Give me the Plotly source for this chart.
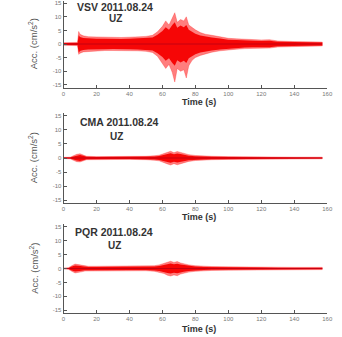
import plotly.graph_objects as go

W, H = 342, 337

# ---- data (envelope of the acceleration traces, cm/s^2) ----
vsv_t = [0, 5, 8.5, 9.2, 10, 12, 15, 20, 25, 30, 35, 40, 45, 50, 54, 57, 60, 62, 64, 66, 67.5, 69, 71, 73, 74.5, 76, 78, 80, 83, 86, 90, 95, 100, 105, 110, 115, 120, 125, 130, 140, 150, 157]
vsv_up = [0.5, 0.5, 0.6, 4.6, 3.6, 3.0, 2.7, 2.6, 2.5, 2.4, 2.4, 2.5, 2.6, 2.8, 3.2, 4.5, 6.5, 8.5, 7.0, 9.5, 11.5, 8.0, 9.0, 8.5, 10.0, 7.0, 6.0, 5.2, 4.2, 3.6, 3.2, 2.6, 2.1, 1.9, 1.7, 1.6, 1.5, 1.6, 1.1, 0.9, 0.8, 0.7]
vsv_lo = [-0.5, -0.5, -0.6, -3.8, -3.4, -2.9, -2.6, -2.5, -2.4, -2.4, -2.3, -2.4, -2.5, -2.7, -3.1, -4.5, -7.0, -9.0, -7.5, -10.5, -14.0, -9.0, -10.0, -9.5, -12.5, -8.0, -6.0, -5.0, -4.2, -3.6, -3.0, -2.5, -2.1, -1.9, -1.7, -1.6, -1.5, -1.5, -1.1, -0.9, -0.8, -0.7]
vsv_core = [0.4, 0.4, 0.4, 3.2, 2.6, 2.2, 2.0, 1.9, 1.9, 1.8, 1.8, 1.9, 2.0, 2.1, 2.4, 3.4, 4.8, 6.2, 5.2, 7.0, 8.0, 6.0, 6.8, 6.2, 7.0, 5.2, 4.4, 3.8, 3.1, 2.7, 2.4, 2.0, 1.6, 1.5, 1.3, 1.2, 1.1, 1.2, 0.85, 0.7, 0.6, 0.55]

cma_t = [0, 4, 6, 8, 10, 12, 14, 20, 30, 40, 50, 55, 58, 61, 63, 65, 67, 69, 71, 73, 76, 80, 85, 90, 100, 110, 120, 130, 140, 150, 157]
cma_up = [0.2, 0.3, 0.8, 1.3, 1.5, 1.1, 0.6, 0.5, 0.5, 0.5, 0.6, 0.8, 1.0, 1.6, 2.0, 2.4, 1.9, 2.3, 2.0, 1.6, 1.2, 0.9, 0.7, 0.6, 0.5, 0.4, 0.35, 0.3, 0.3, 0.3, 0.3]
cma_lo = [-0.2, -0.3, -0.8, -1.3, -1.4, -1.0, -0.6, -0.5, -0.5, -0.5, -0.6, -0.8, -1.0, -1.6, -2.1, -2.5, -2.0, -2.4, -2.0, -1.6, -1.2, -0.9, -0.7, -0.6, -0.5, -0.4, -0.35, -0.3, -0.3, -0.3, -0.3]

pqr_t = [0, 3, 5, 7, 9, 11, 13, 15, 20, 30, 40, 50, 55, 58, 61, 63, 65, 67, 69, 71, 73, 76, 80, 85, 90, 100, 110, 120, 130, 140, 150, 157]
pqr_up = [0.2, 0.3, 1.0, 1.6, 1.4, 1.2, 0.9, 0.8, 0.8, 0.8, 0.8, 0.8, 1.0, 1.3, 1.8, 2.3, 2.6, 2.2, 2.5, 2.0, 1.7, 1.3, 1.0, 0.8, 0.7, 0.6, 0.5, 0.45, 0.4, 0.4, 0.4, 0.4]
pqr_lo = [-0.2, -0.3, -1.0, -1.6, -1.4, -1.2, -0.9, -0.8, -0.8, -0.8, -0.8, -0.8, -1.0, -1.3, -1.8, -2.4, -2.7, -2.3, -2.6, -2.0, -1.7, -1.3, -1.0, -0.8, -0.7, -0.6, -0.5, -0.45, -0.4, -0.4, -0.4, -0.4]

panels = [
    dict(name="VSV 2011.08.24", comp="UZ", t=vsv_t, up=vsv_up, lo=vsv_lo, core=vsv_core,
         top=0.5, bot=87.5, title_y=7, comp_y=19, tx=116, cx=116, time_y=102),
    dict(name="CMA 2011.08.24", comp="UZ", t=cma_t, up=cma_up, lo=cma_lo, core=None,
         top=113, bot=203, title_y=122, comp_y=137, tx=120, cx=117, time_y=217),
    dict(name="PQR 2011.08.24", comp="UZ", t=pqr_t, up=pqr_up, lo=pqr_lo, core=None,
         top=224, bot=313, title_y=232, comp_y=245, tx=115, cx=115, time_y=329),
]

y_ticks = [15, 10, 5, 0, -5, -10, -15]
x_ticks = [0, 20, 40, 60, 80, 100, 120, 140, 160]

x0_px, x1_px = 63, 333

fig = go.Figure()
annotations = []

def fy(px):
    return 1 - px / H

def label(text, xpx, ypx, size, color, angle=0):
    return dict(text=text, x=xpx / W, y=fy(ypx), xref="paper", yref="paper",
                xanchor="center", yanchor="middle", showarrow=False, textangle=angle,
                font=dict(family="Arial", size=size, color=color))

for i, p in enumerate(panels):
    n = "" if i == 0 else str(i + 1)
    xa, ya = "x" + n, "y" + n
    # outer envelope (soft edge)
    fig.add_trace(go.Scatter(
        x=p["t"] + p["t"][::-1], y=p["up"] + p["lo"][::-1],
        fill="toself", mode="lines", line=dict(width=0.5, color="rgba(255,30,30,0.6)"),
        fillcolor="rgba(255,40,40,0.6)", xaxis=xa, yaxis=ya, showlegend=False, hoverinfo="skip"))
    # inner core (dense)
    core = p["core"] if p["core"] is not None else [0.7 * v for v in p["up"]]
    fig.add_trace(go.Scatter(
        x=p["t"] + p["t"][::-1], y=core + [-v for v in core][::-1],
        fill="toself", mode="lines", line=dict(width=0, color="#ff0000"),
        fillcolor="rgba(245,0,0,0.95)", xaxis=xa, yaxis=ya, showlegend=False, hoverinfo="skip"))
    fig.add_trace(go.Scatter(
        x=[p["t"][0], p["t"][-1]], y=[0, 0], mode="lines",
        line=dict(width=1, color="rgba(185,0,20,0.8)"),
        xaxis=xa, yaxis=ya, showlegend=False, hoverinfo="skip"))

    axis_common = dict(showgrid=False, zeroline=False, showline=True, linecolor="#555",
                       linewidth=1, ticks="inside", ticklen=3, tickcolor="#555",
                       tickfont=dict(family="Arial", size=6, color="#777"))
    fig.update_layout(**{
        "xaxis" + n: dict(domain=[x0_px / W, x1_px / W], range=[0, 160], anchor=ya,
                          tickvals=x_ticks, ticktext=[str(v) for v in x_ticks], **axis_common),
        "yaxis" + n: dict(domain=[fy(p["bot"]), fy(p["top"])], range=[-16, 16], anchor=xa,
                          tickvals=y_ticks, ticktext=[str(v) for v in y_ticks], **axis_common),
    })
    annotations.append(label("<b>" + p["name"] + "</b>", p["tx"], p["title_y"], 10.5, "#333"))
    annotations.append(label("<b>" + p["comp"] + "</b>", p["cx"], p["comp_y"], 10, "#333"))
    annotations.append(label("<b>Time (s)</b>", 202, p["time_y"], 9, "#333"))
    mid = (p["top"] + p["bot"]) / 2
    annotations.append(label("Acc. (cm/s<sup>2</sup>)", 32, mid, 9.5, "#555", angle=-90))

fig.update_layout(width=W, height=H, margin=dict(l=0, r=0, t=0, b=0),
                  paper_bgcolor="white", plot_bgcolor="white", annotations=annotations)

fig.write_html("out.html", config={"displayModeBar": False},
               post_script="document.body.style.margin='0';")
